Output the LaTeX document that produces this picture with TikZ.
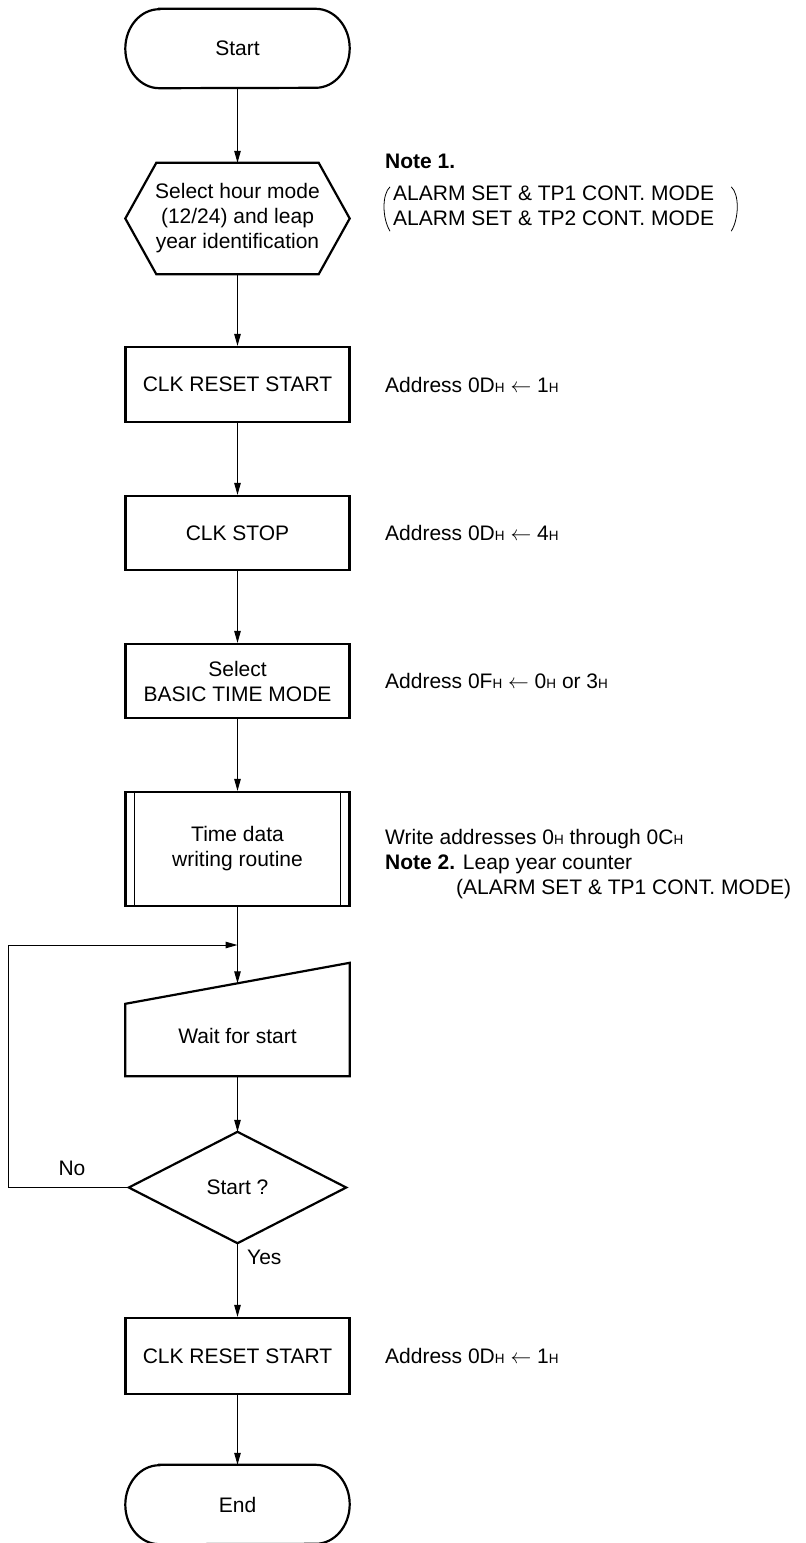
\documentclass[tikz,border=0pt]{standalone}
\usepackage{fontspec}
\setmainfont{Liberation Sans}
\usetikzlibrary{arrows.meta,calc}
% small "H" suffix for hexadecimal values
\newcommand\hsub{{\fontsize{13.5}{13.5}\selectfont H}}
% outline of a terminal (start / end) around a named node
\newcommand\terminal[1]{%
  \draw[frame] ($(#1.north west)+(34,0)$) -- ($(#1.north east)+(-34,0)$)
    arc[start angle=90, end angle=-90, x radius=34, y radius=39.5]
    -- ($(#1.south west)+(34,0)$)
    arc[start angle=270, end angle=90, x radius=34, y radius=39.5] -- cycle;}
\begin{document}
\begin{tikzpicture}[x=1pt,y=1pt,
  every node/.style={font=\fontsize{21}{25}\selectfont, align=center, inner sep=0pt},
  frame/.style={line width=2.2pt, line join=miter},
  conn/.style={line width=1pt},
  arr/.style={conn, -{Triangle[length=12pt,width=6.5pt]}},
  slot/.style={minimum width=224pt},
  boxed/.style={slot, draw, frame},
  note/.style={anchor=base west, align=left}]
\useasboundingbox (0,0) rectangle (806,-1543);

% ---- flow nodes ----
\node[slot, minimum height=79pt] (start) at (237.5,-48.5) {Start};
\terminal{start}

\node[slot, minimum height=111pt] (hex) at (237.5,-218.5)
  {Select hour mode\\(12/24) and leap\\year identification};
\draw[frame] (hex.west) -- ($(hex.north west)+(31,0)$) -- ($(hex.north east)+(-31,0)$)
  -- (hex.east) -- ($(hex.south east)+(-31,0)$) -- ($(hex.south west)+(31,0)$) -- cycle;

\node[boxed, minimum height=75pt] (rst) at (237.5,-384.5) {CLK RESET START};
\node[boxed, minimum height=74pt] (stp) at (237.5,-533) {CLK STOP};
\node[boxed, minimum height=74pt] (sel) at (237.5,-681) {Select\\BASIC TIME MODE};

\node[boxed, minimum height=114pt] (tdata) at (237.5,-849) {Time data\\writing routine};
\draw[conn] ($(tdata.north west)+(10,0)$) -- ($(tdata.south west)+(10,0)$);
\draw[conn] ($(tdata.north east)+(-10,0)$) -- ($(tdata.south east)+(-10,0)$);

% manual input shape: slanted top edge
\node[slot, minimum height=113pt] (wait) at (237.5,-1019.5) {};
\draw[frame] (wait.south west) -- (wait.south east) -- (wait.north east)
  -- ($(wait.north west)+(0,-41)$) -- cycle;
\node (waittxt) at (237.5,-1036) {Wait for start};
\coordinate (waitin) at ($(wait.north)+(0,-20.5)$);

\node[minimum width=217pt, minimum height=111pt] (dec) at (237.5,-1187.5) {Start ?};
\draw[frame] (dec.north) -- (dec.east) -- (dec.south) -- (dec.west) -- cycle;

\node[boxed, minimum height=76pt] (rst2) at (237.5,-1356) {CLK RESET START};

\node[slot, minimum height=79pt] (stop) at (237.5,-1504.5) {End};
\terminal{stop}

% ---- connectors ----
\coordinate (join) at (237.5,-945);
\coordinate (back) at (8,-1187.5);
\draw[arr] (start.south) -- (hex.north);
\draw[arr] (hex.south) -- (rst.north);
\draw[arr] (rst.south) -- (stp.north);
\draw[arr] (stp.south) -- (sel.north);
\draw[arr] (sel.south) -- (tdata.north);
\draw[arr] (tdata.south) -- (waitin);
\draw[arr] (wait.south) -- (dec.north);
\draw[arr] (dec.south) -- (rst2.north);
\draw[arr] (rst2.south) -- (stop.north);
\draw[arr] (dec.west) -- (back) |- (join);

\node[anchor=base] (no) at (72,-1175.5) {No};
\node[anchor=base west] (yes) at (247,-1264.5) {Yes};

% ---- side notes ----
\node[note] (n1) at (385,-168) {\textbf{Note 1.}};
\node[anchor=west, align=left] (n1body) at (393,-206)
  {ALARM SET \& TP1 CONT. MODE\\ALARM SET \& TP2 CONT. MODE};
\draw[line width=0.8pt] ($(n1body.north west)+(-3,-1)$)
  .. controls ($(n1body.west)+(-11,12)$) and ($(n1body.west)+(-11,-12)$)
  .. ($(n1body.south west)+(-3,-5)$);
\draw[line width=0.8pt] ($(n1body.north east)+(17,-1)$)
  .. controls ($(n1body.east)+(25,12)$) and ($(n1body.east)+(25,-12)$)
  .. ($(n1body.south east)+(17,-5)$);

\node[note] (a1) at (385,-392) {Address 0D\hsub{} $\leftarrow$ 1\hsub};
\node[note] (a2) at (385,-540.5) {Address 0D\hsub{} $\leftarrow$ 4\hsub};
\node[note] (a3) at (385,-688.5) {Address 0F\hsub{} $\leftarrow$ 0\hsub{} or 3\hsub};
\node[note] (w1) at (385,-844) {Write addresses 0\hsub{} through 0C\hsub};
\node[note] (w2) at (385,-869) {\textbf{Note 2.} Leap year counter};
\node[note] (w3) at (456,-894) {(ALARM SET \& TP1 CONT. MODE)};
\node[note] (a4) at (385,-1363.5) {Address 0D\hsub{} $\leftarrow$ 1\hsub};
\end{tikzpicture}
\end{document}
